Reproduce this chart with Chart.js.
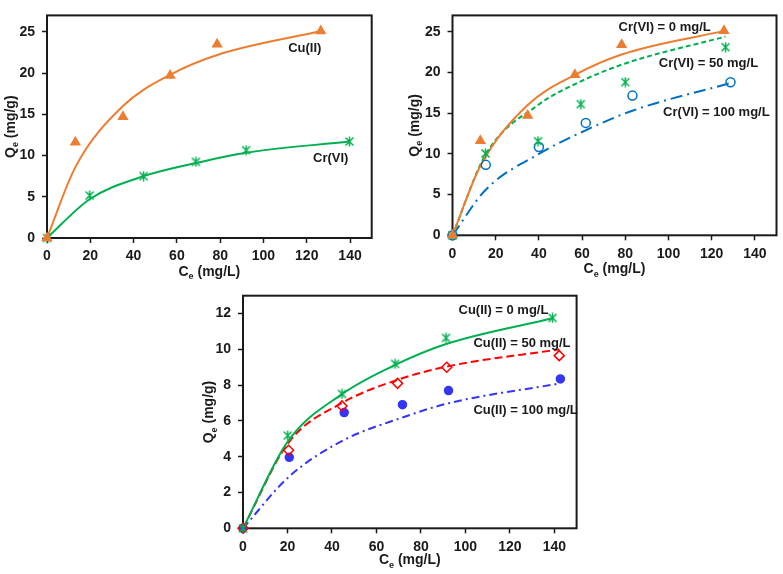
<!DOCTYPE html>
<html>
<head>
<meta charset="utf-8">
<title>Adsorption isotherms</title>
<script src="https://cdn.jsdelivr.net/npm/chart.js@4.4.0/dist/chart.umd.min.js"></script>
<style>
  body { margin: 0; background: #fff; }
  #wrap { position: relative; width: 783px; height: 574px; background: #fff; }
  canvas { position: absolute; }
</style>
</head>
<body>
<div id="wrap">
  <canvas id="chartA" width="390" height="280" style="left:0;top:0"></canvas>
  <canvas id="chartB" width="393" height="280" style="left:390px;top:0"></canvas>
  <canvas id="chartC" width="400" height="294" style="left:200px;top:280px"></canvas>
</div>
<script>
// tick labels
const xTicks = [0, 20, 40, 60, 80, 100, 120, 140];
const yTicksTop = [0, 5, 10, 15, 20, 25];
const yTicksBottom = [0, 2, 4, 6, 8, 10, 12];

// top-left: single metal
const ceCuA = [0, 13.1, 35.1, 56.9, 78.6, 126.5];
const qeCuA = [0, 11.6, 14.7, 19.7, 23.5, 25.1];
const fitCuA = [0, 8.6, 16.0, 19.8, 22.2, 25.1];
const ceCrA = [0, 19.7, 44.6, 68.8, 92.0, 139.7];
const qeCrA = [0, 5.15, 7.5, 9.24, 10.65, 11.7];
const fitCrA = [0, 4.7, 7.5, 9.1, 10.35, 11.7];

// top-right: Cu(II) with Cr(VI) = 0 / 50 / 100 mg/L
const ceCu0 = [0, 12.9, 34.8, 56.7, 78.3, 125.7];
const qeCu0 = [0, 11.6, 14.7, 19.7, 23.4, 25.1];
const fitCu0 = [0, 8.5, 16.0, 19.7, 22.2, 25.1];
const ceCu50 = [0, 15.3, 39.6, 59.4, 80.0, 126.4];
const qeCu50 = [0, 10.05, 11.55, 16.1, 18.8, 23.1];
const fitCu50 = [0, 9.9, 16.0, 18.9, 21.1, 24.4];
const ceCu100 = [0, 15.4, 40.0, 61.7, 83.3, 128.7];
const qeCu100 = [0, 8.65, 10.85, 13.8, 17.15, 18.8];
const fitCu100 = [0, 5.6, 10.0, 12.9, 15.3, 18.7];

// bottom: Cr(VI) with Cu(II) = 0 / 50 / 100 mg/L
const ceCr0 = [0, 20.1, 44.5, 68.4, 91.3, 139.2];
const qeCr0 = [0, 5.18, 7.51, 9.19, 10.64, 11.76];
const fitCr0 = [0, 4.84, 7.5, 9.13, 10.3, 11.74];
const ceCr50 = [0, 20.5, 44.5, 69.5, 91.6, 142.2];
const qeCr50 = [0, 4.36, 6.84, 8.1, 9.0, 9.65];
const fitCr50 = [0, 4.79, 7.0, 8.3, 9.04, 10.0];
const ceCr100 = [0, 20.8, 45.5, 71.7, 92.4, 142.7];
const qeCr100 = [0, 3.97, 6.47, 6.91, 7.7, 8.35];
const fitCr100 = [0, 2.9, 4.94, 6.19, 6.99, 8.1];

const FONT = '"Liberation Sans", Arial, sans-serif';
const orange = "#ED7D31", green = "#00B050", blue = "#0070C0", red = "#FF0000", blue2 = "#3535F5";

Chart.defaults.font.family = FONT;
Chart.defaults.font.size = 14;
Chart.defaults.font.weight = "bold";
Chart.defaults.color = "#1a1a1a";

function pts(xs, ys) {
    return xs.map((x, i) => ({ x, y: ys[i] }));
}

// Excel style star marker (X with a vertical bar)
function starMark(color) {
    const c = document.createElement("canvas");
    c.width = 11; c.height = 11;
    const g = c.getContext("2d");
    g.strokeStyle = color;
    g.lineWidth = 1.5;
    g.beginPath();
    g.moveTo(1.5, 1.5); g.lineTo(9.5, 9.5);
    g.moveTo(9.5, 1.5); g.lineTo(1.5, 9.5);
    g.moveTo(5.5, 0.5); g.lineTo(5.5, 10.5);
    g.stroke();
    return c;
}

function fitLine(xs, ys, color, dash) {
    return {
        data: pts(xs, ys), showLine: true, borderColor: color, borderWidth: 2,
        borderDash: dash || [], pointRadius: 0, cubicInterpolationMode: "monotone",
        clip: false, order: 2
    };
}

function marks(xs, ys, style, color, fill, radius) {
    return {
        data: pts(xs, ys), showLine: false, pointStyle: style, pointRadius: radius,
        pointBorderColor: color, pointBackgroundColor: fill, pointBorderWidth: 1.5,
        clip: false, order: 1
    };
}

const framePlugin = {
    id: "frame",
    beforeDatasetsDraw(chart) {
        const { ctx, chartArea: a } = chart;
        ctx.save();
        ctx.strokeStyle = "#1a1a1a";
        ctx.lineWidth = 2;
        ctx.strokeRect(a.left, a.top, a.right - a.left, a.bottom - a.top);
        ctx.restore();
    }
};

// text with a subscript, centred on (0,0) of the current transform
function subText(ctx, main, sub, rest) {
    const big = "bold 14px " + FONT, small = "bold 9px " + FONT;
    ctx.font = big; const w1 = ctx.measureText(main).width;
    ctx.font = small; const w2 = ctx.measureText(sub).width;
    ctx.font = big; const w3 = ctx.measureText(rest).width;
    let x = -(w1 + w2 + w3) / 2;
    ctx.textAlign = "left";
    ctx.textBaseline = "middle";
    ctx.font = big; ctx.fillText(main, x, 0); x += w1;
    ctx.font = small; ctx.fillText(sub, x, 5); x += w2;
    ctx.font = big; ctx.fillText(rest, x, 0);
}

function textPlugin(notes, yTitleGap, xTitleGap) {
    return {
        id: "texts",
        afterDraw(chart) {
            const { ctx, chartArea: a, scales } = chart;
            ctx.save();
            ctx.fillStyle = "#1a1a1a";
            ctx.font = "bold 13px " + FONT;
            ctx.textAlign = "left";
            ctx.textBaseline = "middle";
            notes.forEach(n => {
                ctx.fillText(n.text, scales.x.getPixelForValue(n.x), scales.y.getPixelForValue(n.y));
            });
            // x title
            ctx.save();
            ctx.translate((a.left + a.right) / 2, a.bottom + xTitleGap);
            subText(ctx, "C", "e", " (mg/L)");
            ctx.restore();
            // y title
            ctx.save();
            ctx.translate(a.left - yTitleGap, (a.top + a.bottom) / 2);
            ctx.rotate(-Math.PI / 2);
            subText(ctx, "Q", "e", " (mg/g)");
            ctx.restore();
            ctx.restore();
        }
    };
}

function makeChart(id, datasets, box, yMax, yTicks, notes, yTitleGap, xTitleGap) {
    const grid = { drawOnChartArea: false, drawTicks: true, tickLength: 5, tickColor: "#1a1a1a", tickWidth: 1.5 };
    return new Chart(document.getElementById(id), {
        type: "scatter",
        data: { datasets },
        options: {
            responsive: false,
            animation: false,
            layout: { padding: { top: box.top, right: box.right, left: 0, bottom: 0 } },
            plugins: { legend: { display: false }, tooltip: { enabled: false } },
            scales: {
                x: {
                    min: 0, max: 150,
                    afterBuildTicks: s => { s.ticks = xTicks.map(v => ({ value: v })); },
                    afterFit: s => { s.height = box.bottom; },
                    grid, border: { display: false },
                    ticks: { padding: 5, maxRotation: 0 }
                },
                y: {
                    min: 0, max: yMax,
                    afterBuildTicks: s => { s.ticks = yTicks.map(v => ({ value: v })); },
                    afterFit: s => { s.width = box.left; },
                    grid, border: { display: false },
                    ticks: { padding: 7 }
                }
            }
        },
        plugins: [framePlugin, textPlugin(notes, yTitleGap, xTitleGap)]
    });
}

makeChart("chartA", [
    fitLine(ceCuA, fitCuA, orange),
    fitLine(ceCrA, fitCrA, green),
    marks(ceCuA, qeCuA, "triangle", orange, orange, 5),
    marks(ceCrA, qeCrA, starMark(green), green, green, 5)
], { left: 47, top: 3, right: 18.3, bottom: 42 }, 27, yTicksTop, [
    { text: "Cu(II)", x: 111.4, y: 23.0 },
    { text: "Cr(VI)", x: 122.9, y: 9.6 }
], 36, 34);

makeChart("chartB", [
    fitLine(ceCu0, fitCu0, orange),
    fitLine(ceCu50, fitCu50, green, [5, 3]),
    fitLine(ceCu100, fitCu100, blue, [12, 5, 2, 5]),
    marks(ceCu0, qeCu0, "triangle", orange, orange, 5),
    marks(ceCu50, qeCu50, starMark(green), green, green, 5),
    marks(ceCu100, qeCu100, "circle", blue, "rgba(255,255,255,0)", 4.5)
], { left: 62.5, top: 0.5, right: 1.5, bottom: 44.7 }, 27, yTicksTop, [
    { text: "Cr(VI) = 0 mg/L", x: 76.9, y: 25.5 },
    { text: "Cr(VI) = 50 mg/L", x: 95.5, y: 21.1 },
    { text: "Cr(VI) = 100 mg/L", x: 97.5, y: 15.1 }
], 37.5, 34);

makeChart("chartC", [
    fitLine(ceCr0, fitCr0, green),
    fitLine(ceCr50, fitCr50, red, [8, 4]),
    fitLine(ceCr100, fitCr100, blue2, [8, 4, 2, 4]),
    marks(ceCr0, qeCr0, starMark(green), green, green, 5),
    marks(ceCr50, qeCr50, "rectRot", red, "rgba(255,255,255,0)", 5),
    marks(ceCr100, qeCr100, "circle", blue2, blue2, 4)
], { left: 43, top: 15.7, right: 23.4, bottom: 45.7 }, 13, yTicksBottom, [
    { text: "Cu(II) = 0 mg/L", x: 96.9, y: 12.2 },
    { text: "Cu(II) = 50 mg/L", x: 103.6, y: 10.35 },
    { text: "Cu(II) = 100 mg/L", x: 103.6, y: 6.57 }
], 33.5, 32);
</script>
</body>
</html>
